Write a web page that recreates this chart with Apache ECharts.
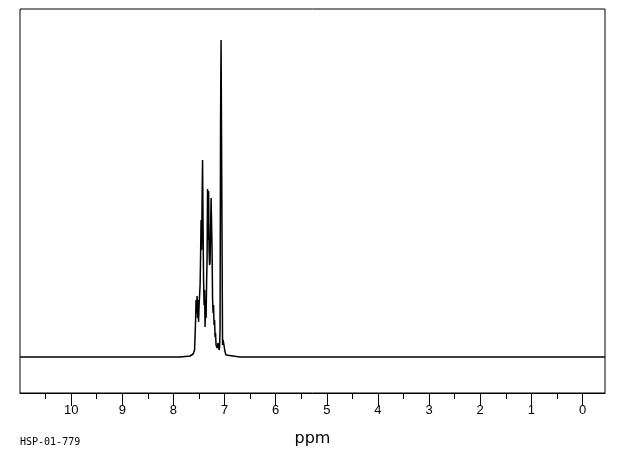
<!DOCTYPE html>
<html>
<head>
<meta charset="utf-8">
<script src="https://cdn.jsdelivr.net/npm/echarts@6/dist/echarts.min.js"></script>
<style>
html,body{margin:0;padding:0;background:#fff;}
#chart{width:620px;height:455px;}
</style>
</head>
<body>
<div id="chart"></div>
<script>
// Chemical shift (ppm) of each traced point
const ppm = [11.0, 10.2, 9.43, 8.65, 7.87, 7.674, 7.615, 7.586, 7.566, 7.557, 7.547, 7.537, 7.527, 7.518, 7.508, 7.498, 7.488, 7.478, 7.469, 7.459, 7.449, 7.439, 7.430, 7.420, 7.410, 7.400, 7.390, 7.381, 7.371, 7.361, 7.351, 7.342, 7.332, 7.322, 7.312, 7.303, 7.293, 7.283, 7.273, 7.263, 7.254, 7.244, 7.234, 7.224, 7.215, 7.205, 7.195, 7.185, 7.176, 7.166, 7.146, 7.127, 7.107, 7.097, 7.088, 7.078, 7.068, 7.058, 7.048, 7.039, 7.029, 7.019, 7.009, 6.990, 6.970, 6.931, 6.70, 5.52, 3.57, 1.61, -0.44];
// Signal intensity (arbitrary units)
const intensity = [0, 0, 0, 0, 0, 1, 3, 7, 37, 57, 44, 61, 39, 57, 35, 52, 62, 72, 99, 137, 107, 157, 197, 130, 77, 52, 67, 30, 57, 39, 74, 97, 168, 117, 166, 107, 92, 95, 127, 159, 160, 107, 57, 44, 52, 32, 37, 20, 24, 12, 9, 14, 7, 10, 27, 237, 317, 315, 107, 12, 17, 19, 11, 5, 2, 1, 0, 0, 0, 0, 0];
// Axis ticks
const majorTicks = [0, 1, 2, 3, 4, 5, 6, 7, 8, 9, 10];
const minorTicks = [0.5, 1.5, 2.5, 3.5, 4.5, 5.5, 6.5, 7.5, 8.5, 9.5, 10.5];
const axisTitle = 'ppm';
const footnote = 'HSP-01-779';

const chart = echarts.init(document.getElementById('chart'), null, {renderer: 'canvas'});
const data = ppm.map((p, i) => [p, intensity[i]]);
chart.setOption({
  backgroundColor: '#fff',
  animation: false,
  grid: {left: 20, top: 9, right: 15, bottom: 62, show: true, borderColor: '#000', borderWidth: 1, backgroundColor: 'transparent'},
  xAxis: [{
    type: 'value', inverse: true, min: -0.44, max: 11.0,
    position: 'bottom',
    name: axisTitle, nameLocation: 'middle', nameGap: 38,
    nameTextStyle: {color: '#000', fontSize: 16, fontFamily: 'DejaVu Sans'},
    axisLine: {show: true, onZero: false, lineStyle: {color: '#000', width: 1}},
    axisTick: {show: true, customValues: majorTicks, length: 13, lineStyle: {color: '#000', width: 1}},
    axisLabel: {show: true, customValues: majorTicks, margin: 11, color: '#000', fontSize: 13, fontFamily: 'Liberation Sans'},
    splitLine: {show: false}
  }, {
    type: 'value', inverse: true, min: -0.44, max: 11.0,
    position: 'bottom',
    axisLine: {show: false, onZero: false},
    axisTick: {show: true, customValues: minorTicks, length: 6, lineStyle: {color: '#000', width: 1}},
    axisLabel: {show: false},
    splitLine: {show: false}
  }],
  yAxis: {type: 'value', min: -36, max: 348, show: false},
  series: [{
    type: 'line', xAxisIndex: 0, data: data, showSymbol: false, symbol: 'none',
    lineStyle: {color: '#000', width: 1.5}
  }],
  graphic: [{
    type: 'text', left: 20, top: 437,
    style: {text: footnote, fill: '#000', fontSize: 10, fontFamily: 'DejaVu Sans Mono'}
  }]
});
</script>
</body>
</html>
